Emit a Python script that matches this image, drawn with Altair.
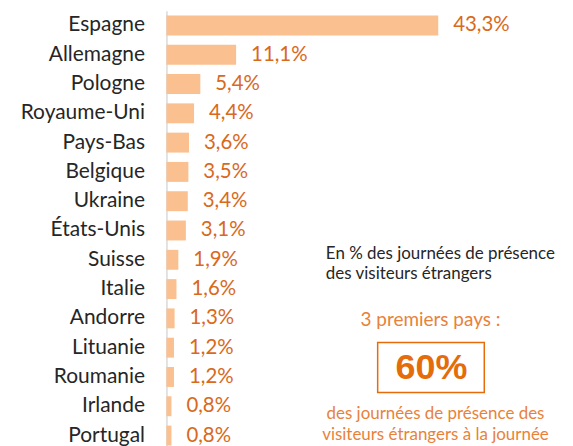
import altair as alt
import pandas as pd

countries = ["Espagne", "Allemagne", "Pologne", "Royaume-Uni", "Pays-Bas", "Belgique",
             "Ukraine", "États-Unis", "Suisse", "Italie", "Andorre", "Lituanie",
             "Roumanie", "Irlande", "Portugal"]
values = [43.3, 11.1, 5.4, 4.4, 3.6, 3.5, 3.4, 3.1, 1.9, 1.6, 1.3, 1.2, 1.2, 0.8, 0.8]
labels = ["43,3%", "11,1%", "5,4%", "4,4%", "3,6%", "3,5%", "3,4%", "3,1%", "1,9%",
          "1,6%", "1,3%", "1,2%", "1,2%", "0,8%", "0,8%"]

df = pd.DataFrame({"pays": countries, "val": values, "lab": labels})

FONT = "Lato"
BAR = "#FAC090"
DARK_OR = "#D9691C"
BOX_OR = "#E46C0A"
LIGHT_OR = "#E8823A"

W, H = 400, 441
xscale = alt.Scale(domain=[0, W / 6.3], nice=False)
yenc = alt.Y("pays:N", sort=None,
             scale=alt.Scale(paddingInner=0.32, paddingOuter=0.16),
             axis=alt.Axis(title=None, ticks=False, domain=True, domainColor="#D9D9D9",
                           domainWidth=1.5, labelFont=FONT, labelFontSize=21,
                           labelFontWeight="normal",
                           labelColor="#262626", labelPadding=22, grid=False))

base = alt.Chart(df)

bars = base.mark_bar(color=BAR).encode(
    x=alt.X("val:Q", scale=xscale, axis=None),
    y=yenc,
)

vals = base.mark_text(align="left", baseline="middle", dx=15, font=FONT,
                      fontSize=20.5, color=DARK_OR).encode(
    x=alt.X("val:Q", scale=xscale, axis=None),
    y=yenc,
    text="lab:N",
)

note = pd.DataFrame({"t": ["x"]})

def txt(text, x, y, size, color, align="left", weight="normal", font=FONT):
    return alt.Chart(note).mark_text(text=text, align=align, baseline="middle",
                                     font=font, fontSize=size, color=color,
                                     fontWeight=weight).encode(
        x=alt.value(x), y=alt.value(y))

t1 = txt("En % des journées de présence", 160, 244, 17, "#262626")
t2 = txt("des visiteurs étrangers", 160, 264, 17, "#262626")
t3 = txt("3 premiers pays :", 265, 310, 19, LIGHT_OR, align="center")
box = alt.Chart(note).mark_rect(fill="white", stroke=BOX_OR, strokeWidth=1.5).encode(
    x=alt.value(212), x2=alt.value(319), y=alt.value(333), y2=alt.value(383))
t4 = txt("60%", 266, 359, 36, BOX_OR, align="center", weight="bold",
         font="Liberation Sans")
t5 = txt("des journées de présence des", 270, 405, 17, LIGHT_OR, align="center")
t6 = txt("visiteurs étrangers à la journée", 270, 426, 17, LIGHT_OR, align="center")

chart = alt.layer(bars, vals, t1, t2, t3, box, t4, t5, t6).properties(
    width=W, height=H,
    autosize=alt.AutoSizeParams(type="none"),
    padding={"left": 159, "top": 2, "right": 0, "bottom": 0},
).configure_view(stroke=None)

chart.save("out.html", embed_options={"renderer": "svg", "actions": False})
